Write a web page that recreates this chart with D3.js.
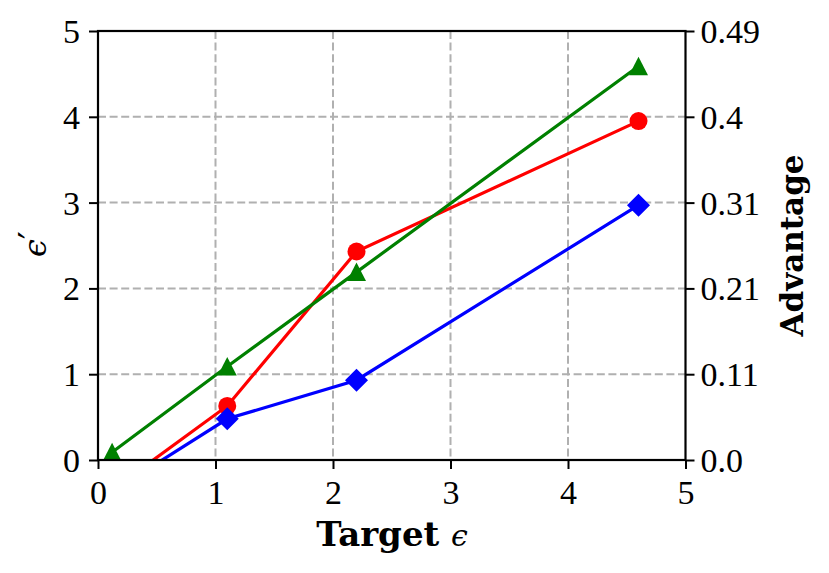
<!DOCTYPE html>
<html><head><meta charset="utf-8">
<script src="https://cdn.jsdelivr.net/npm/d3@7"></script>
<style>body{margin:0;background:#fff}</style>
</head><body>
<svg id="c" width="829" height="573"></svg>
<script>
const xValues = [0.12, 1.1, 2.2, 4.6];
const redValues = [-0.35, 0.63, 2.43, 3.95];
const blueValues = [-0.37, 0.48, 0.93, 2.97];
const greenValues = [0.09, 1.09, 2.19, 4.59];
const xTicks = [0, 1, 2, 3, 4, 5];
const yTicks = [0, 1, 2, 3, 4, 5];
const rightTickLabels = ["0.0", "0.11", "0.21", "0.31", "0.4", "0.49"];

const svg = d3.select("#c");
const L = 98, R = 685.5, T = 31, B = 460;
const x = d3.scaleLinear().domain([0, 5]).range([L, R]);
const y = d3.scaleLinear().domain([0, 5]).range([B, T]);
const numFont = "'Liberation Serif', 'DejaVu Serif', serif";
const labFont = "'DejaVu Serif', serif";

svg.append("defs").append("clipPath").attr("id", "clip")
  .append("rect").attr("x", L).attr("y", T).attr("width", R - L).attr("height", B - T);

// grid
const grid = svg.append("g").attr("stroke", "#b0b0b0").attr("stroke-width", 2).attr("stroke-dasharray", "8,3.6");
xTicks.slice(1, -1).forEach(t => grid.append("line").attr("x1", x(t)).attr("x2", x(t)).attr("y1", T).attr("y2", B));
yTicks.slice(1, -1).forEach(t => grid.append("line").attr("y1", y(t)).attr("y2", y(t)).attr("x1", L).attr("x2", R));

const plot = svg.append("g").attr("clip-path", "url(#clip)");
function series(vals, color, marker) {
  const pts = xValues.map((v, i) => [v, vals[i]]);
  plot.append("path").datum(pts)
    .attr("d", d3.line().x(d => x(d[0])).y(d => y(d[1])))
    .attr("fill", "none").attr("stroke", color).attr("stroke-width", 3.2);
  plot.selectAll(null).data(pts).enter().append("path")
    .attr("transform", d => `translate(${x(d[0])},${y(d[1])})`)
    .attr("d", marker).attr("fill", color);
}
const circle = d3.symbol().type(d3.symbolCircle).size(Math.PI * 81)();
const diamond = "M0,-11.5L11.5,0L0,11.5L-11.5,0Z";
const tri = "M0,-9.5L9.5,9L-9.5,9Z";
series(redValues, "#ff0000", circle);
series(blueValues, "#0000ff", diamond);
series(greenValues, "#008000", tri);

// axes
const TS = 9;
const xa = svg.append("g").attr("transform", `translate(0,${B})`)
  .call(d3.axisBottom(x).tickValues(xTicks).tickFormat(d3.format("d")).tickSizeOuter(0).tickSize(TS));
const ya = svg.append("g").attr("transform", `translate(${L},0)`)
  .call(d3.axisLeft(y).tickValues(yTicks).tickFormat(d3.format("d")).tickSizeOuter(0).tickSize(TS));
const ra = svg.append("g").attr("transform", `translate(${R},0)`)
  .call(d3.axisRight(y).tickValues(yTicks).tickFormat((d, i) => rightTickLabels[i]).tickSizeOuter(0).tickSize(TS));
[xa, ya, ra].forEach(g => {
  g.select(".domain").remove();
  g.selectAll("line").attr("stroke", "#000").attr("stroke-width", 2);
  g.selectAll("text").attr("font-family", numFont).attr("font-size", 34).attr("fill", "#000");
});
xa.selectAll("text").attr("y", 43.5).attr("dy", 0);
ya.selectAll("text").attr("x", -18).attr("y", 0).attr("dy", 11.5);
ra.selectAll("text").attr("x", 15).attr("y", 0).attr("dy", 11.5);

svg.append("rect").attr("x", L).attr("y", T).attr("width", R - L).attr("height", B - T)
  .attr("fill", "none").attr("stroke", "#000").attr("stroke-width", 2.2);

// labels
svg.append("text").attr("x", 392).attr("y", 546).attr("text-anchor", "middle")
  .attr("font-family", labFont).attr("font-size", 34).attr("font-weight", "bold")
  .html('Target <tspan font-weight="normal" font-style="italic" font-size="30">ϵ</tspan>');
svg.append("text").attr("transform", `translate(46,244) rotate(-90)`).attr("text-anchor", "middle")
  .attr("font-family", labFont).attr("font-size", 32).attr("font-style", "italic")
  .html('ϵ<tspan font-style="normal" font-size="36" dy="-2">′</tspan>');
svg.append("text").attr("transform", `translate(803,${(T + B) / 2}) rotate(-90)`).attr("text-anchor", "middle")
  .attr("font-family", labFont).attr("font-size", 31).attr("font-weight", "bold").text("Advantage");
</script>
</body></html>
